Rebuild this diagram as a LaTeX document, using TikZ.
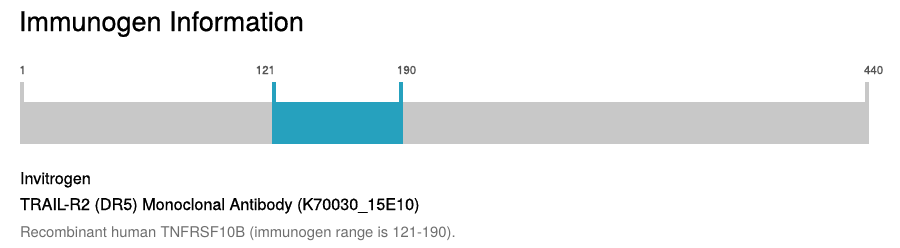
\documentclass[tikz,border=0pt]{standalone}
\usepackage{fontspec}
\setmainfont{TeX Gyre Heros}
\newfontfamily\medfont[FakeBold=0.6]{TeX Gyre Heros}
\newfontfamily\semifont[FakeBold=1.2]{TeX Gyre Heros}
\definecolor{barGray}{HTML}{C8C8C8}
\definecolor{barTeal}{HTML}{26A1BE}
\definecolor{lblGray}{HTML}{555555}
\definecolor{descGray}{HTML}{6E6E6E}
\begin{document}
\begin{tikzpicture}[x=1pt,y=-1pt,
  every node/.style={inner sep=0pt,outer sep=0pt},
  poslabel/.style={font=\semifont\fontsize{11.5}{13}\selectfont,text=lblGray},
  titletext/.style={font=\medfont\fontsize{27}{30}\selectfont,text=black},
  headtext/.style={font=\medfont\fontsize{16.2}{18}\selectfont,text=black},
  desctext/.style={font=\fontsize{14.8}{16}\selectfont,text=descGray}]
\useasboundingbox (0,0) rectangle (900,247);
% title
\node[titletext,anchor=base west] (title) at (19,31) {Immunogen Information};
% full bar
\fill[barGray] (20,102) rectangle (869,144);
\fill[barGray] (20,82) rectangle (24,102);
\fill[barGray] (865,82) rectangle (869,102);
% immunogen region
\fill[barTeal] (272,102) rectangle (403,144);
\fill[barTeal] (272,82) rectangle (276,102);
\fill[barTeal] (399,82) rectangle (403,102);
% labels
\node[poslabel,anchor=base west] (l1) at (19.5,74) {1};
\node[poslabel,anchor=base east] (l121) at (275,74) {121};
\node[poslabel,anchor=base west] (l190) at (397,74) {190};
\node[poslabel,anchor=base west] (l440) at (864,74) {440};
% text
\node[headtext,anchor=base west] (vendor) at (20,184) {Invitrogen};
\node[headtext,anchor=base west] (prod) at (20,210) {TRAIL-R2 (DR5) Monoclonal Antibody (K70030\_15E10)};
\node[desctext,anchor=base west] (desc) at (20,237) {Recombinant human TNFRSF10B (immunogen range is 121-190).};
\end{tikzpicture}
\end{document}
